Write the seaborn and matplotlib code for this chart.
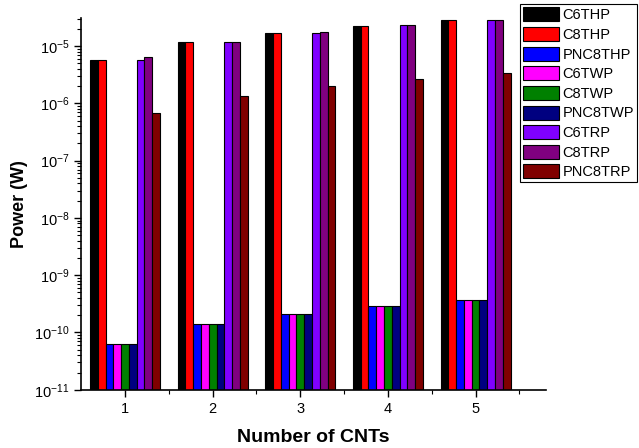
import numpy as np
import pandas as pd
import seaborn as sns
import matplotlib.pyplot as plt
from matplotlib.ticker import FixedLocator, LogLocator, NullFormatter

# data
cnts = ["1", "2", "3", "4", "5"]
series = ["C6THP", "C8THP", "PNC8THP", "C6TWP", "C8TWP",
          "PNC8TWP", "C6TRP", "C8TRP", "PNC8TRP"]
c6thp = [5.7e-6, 1.16e-5, 1.69e-5, 2.26e-5, 2.8e-5]
c8thp = [5.7e-6, 1.16e-5, 1.69e-5, 2.26e-5, 2.8e-5]
pnc8thp = [6.3e-11, 1.42e-10, 2.12e-10, 2.95e-10, 3.65e-10]
c6twp = [6.3e-11, 1.42e-10, 2.12e-10, 2.95e-10, 3.65e-10]
c8twp = [6.3e-11, 1.42e-10, 2.12e-10, 2.95e-10, 3.65e-10]
pnc8twp = [6.3e-11, 1.42e-10, 2.12e-10, 2.95e-10, 3.65e-10]
c6trp = [5.8e-6, 1.17e-5, 1.72e-5, 2.32e-5, 2.85e-5]
c8trp = [6.4e-6, 1.2e-5, 1.74e-5, 2.32e-5, 2.85e-5]
pnc8trp = [6.7e-7, 1.36e-6, 2.0e-6, 2.65e-6, 3.4e-6]
colors = ["#000000", "#ff0000", "#0000ff", "#ff00ff", "#008000",
          "#000080", "#8000ff", "#800080", "#800000"]
yticks = [1e-11, 1e-10, 1e-9, 1e-8, 1e-7, 1e-6, 1e-5]

values = [c6thp, c8thp, pnc8thp, c6twp, c8twp, pnc8twp, c6trp, c8trp, pnc8trp]
rows = []
for name, vals in zip(series, values):
    for c, v in zip(cnts, vals):
        rows.append({"cnt": c, "series": name, "power": v})
df = pd.DataFrame(rows)

sns.set_style("ticks")
plt.rcParams["font.family"] = ["Liberation Sans", "DejaVu Sans"]
plt.rcParams["mathtext.default"] = "regular"
plt.rcParams["text.color"] = "black"
plt.rcParams["axes.labelcolor"] = "black"
plt.rcParams["xtick.color"] = "black"
plt.rcParams["ytick.color"] = "black"

fig = plt.figure(figsize=(6.39, 4.48), dpi=100)
ax = fig.add_axes([0.127, 0.130, 0.727, 0.829])
ax.set_yscale("log")
sns.barplot(data=df, x="cnt", y="power", hue="series", hue_order=series,
            order=cnts, palette=colors, edgecolor="black", linewidth=0.8,
            width=0.8, saturation=1, ax=ax, legend=True)

ax.set_ylim(1e-11, 3.05e-5)
ax.set_xlim(-0.5, 4.8)
ax.xaxis.set_minor_locator(FixedLocator([0.5, 1.5, 2.5, 3.5, 4.5]))
ax.yaxis.set_major_locator(FixedLocator(yticks))
ax.yaxis.set_minor_locator(LogLocator(base=10, subs=np.arange(2, 10), numticks=20))
ax.yaxis.set_minor_formatter(NullFormatter())
ax.tick_params(axis="both", which="major", direction="out", length=5,
               width=1, labelsize=10.5, color="black", labelcolor="black")
ax.tick_params(axis="both", which="minor", direction="out", length=3,
               width=0.8, color="black")
for s in ["left", "bottom"]:
    ax.spines[s].set_linewidth(1.2)
    ax.spines[s].set_color("black")
sns.despine(ax=ax)

ax.set_xlabel("Number of CNTs", fontsize=14, fontweight="bold", labelpad=10)
ax.set_ylabel("Power (W)", fontsize=13, fontweight="bold", labelpad=4)

leg = ax.legend(loc="upper right", bbox_to_anchor=(0.997, 0.99),
                bbox_transform=fig.transFigure, fontsize=10.5, frameon=True,
                fancybox=False, edgecolor="black", framealpha=1,
                handlelength=2.5, handleheight=1.1, handletextpad=0.25,
                labelspacing=0.32, borderpad=0.2, borderaxespad=0)
leg.get_frame().set_linewidth(0.8)
for t in leg.get_texts():
    t.set_color("black")

fig.savefig("out.png", dpi=100)
